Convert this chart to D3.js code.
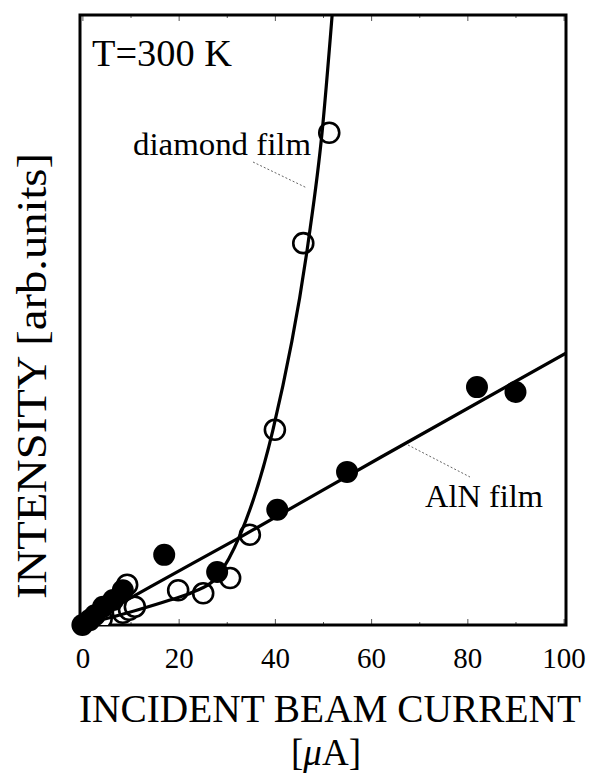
<!DOCTYPE html>
<html>
<head>
<meta charset="utf-8">
<script src="https://cdn.jsdelivr.net/npm/d3@7/dist/d3.min.js"></script>
<style>
  html, body { margin: 0; padding: 0; background: #fff; }
  svg { display: block; }
  text { font-family: "Liberation Serif", "Times New Roman", serif; fill: #000; }
</style>
</head>
<body>
<svg id="chart" width="594" height="773"></svg>
<script>
// Cathodoluminescence intensity vs. incident beam current (T = 300 K)

// x-axis tick labels
const xTickValues = [0, 20, 40, 60, 80, 100];
const xMinorTicks = [10, 30, 50, 70, 90];

// AlN film: measured points (filled circles)
const alnCurrent   = [0, 1.5, 2.6, 4.3, 6.4, 8.4, 17, 28, 40.5, 55, 82, 90];
const alnIntensity = [0, 0.08, 0.16, 0.3, 0.41, 0.57, 1.15, 0.87, 1.89, 2.51, 3.9, 3.82];

// diamond film: measured points (open circles)
const diaCurrent   = [0, 2, 4, 8.4, 9.7, 10.9, 9.3, 19.9, 25.1, 30.7, 34.8, 40.0, 45.9, 51.3];
const diaIntensity = [0, 0.05, 0.1, 0.2, 0.25, 0.3, 0.66, 0.57, 0.52, 0.77, 1.48, 3.2, 6.26, 8.07];

// guide curves through each series
const alnFitX = [0, 14, 33, 62, 101];
const alnFitY = [0, 0.62, 1.45, 2.75, 4.48];
const diaFitX = [0, 11.6, 18.2, 23, 28, 32.8, 39.6, 46.9, 49.8, 51.9, 52.6];
const diaFitY = [0, 0.25, 0.41, 0.54, 0.79, 1.48, 3.2, 6.26, 8.07, 10, 10.7];

const svg = d3.select("#chart");
const frame = { left: 80, top: 15, right: 566, bottom: 625 };

const x = d3.scaleLinear().domain([-0.5, 100.5]).range([frame.left, frame.right]);
const y = d3.scaleLinear().domain([0, 10]).range([frame.bottom, frame.top]);

svg.append("defs").append("clipPath").attr("id", "plot-clip")
  .append("rect")
  .attr("x", frame.left).attr("y", frame.top)
  .attr("width", frame.right - frame.left).attr("height", frame.bottom - frame.top);

// small inward ticks on bottom and top edges
const bottomAxis = d3.axisBottom(x).tickValues(xTickValues).tickSize(-6).tickFormat("");
const bottomMinor = d3.axisBottom(x).tickValues(xMinorTicks).tickSize(-3).tickFormat("");
const topAxis = d3.axisTop(x).tickValues(xTickValues).tickSize(-6).tickFormat("");
const topMinor = d3.axisTop(x).tickValues(xMinorTicks).tickSize(-3).tickFormat("");

[[bottomAxis, frame.bottom], [bottomMinor, frame.bottom], [topAxis, frame.top], [topMinor, frame.top]]
  .forEach(([ax, ty]) => {
    const g = svg.append("g").attr("transform", `translate(0,${ty})`).call(ax);
    g.select(".domain").remove();
    g.selectAll(".tick line").attr("stroke", "#555").attr("stroke-width", 1);
  });

// tick labels
const labelAxis = d3.axisBottom(x).tickValues(xTickValues).tickSize(0).tickPadding(0)
  .tickFormat(d3.format("d"));
const lg = svg.append("g").attr("transform", `translate(0,${frame.bottom})`).call(labelAxis);
lg.select(".domain").remove();
lg.selectAll(".tick text")
  .attr("y", 43).attr("dy", 0)
  .style("font-family", '"Liberation Serif", serif')
  .style("font-size", "29px")
  .attr("fill", "#000");

// frame
svg.append("rect")
  .attr("x", frame.left).attr("y", frame.top)
  .attr("width", frame.right - frame.left).attr("height", frame.bottom - frame.top)
  .attr("fill", "none").attr("stroke", "#000").attr("stroke-width", 3);

const plot = svg.append("g").attr("clip-path", "url(#plot-clip)");

// open circles (diamond film)
const diaPts = diaCurrent.map((c, i) => [c, diaIntensity[i]]);
plot.selectAll("circle.dia").data(diaPts).join("circle")
  .attr("class", "dia")
  .attr("cx", d => x(d[0])).attr("cy", d => y(d[1]))
  .attr("r", 10)
  .attr("fill", "#fff").attr("stroke", "#000").attr("stroke-width", 2.6);

// filled circles (AlN film)
const alnPts = alnCurrent.map((c, i) => [c, alnIntensity[i]]);
svg.selectAll("circle.aln").data(alnPts).join("circle")
  .attr("class", "aln")
  .attr("cx", d => x(d[0])).attr("cy", d => y(d[1]))
  .attr("r", 11)
  .attr("fill", "#000");

// guide curves
const line = d3.line().x(d => x(d[0])).y(d => y(d[1])).curve(d3.curveMonotoneX);
plot.append("path")
  .datum(alnFitX.map((v, i) => [v, alnFitY[i]]))
  .attr("d", line).attr("fill", "none").attr("stroke", "#000").attr("stroke-width", 3.2);
plot.append("path")
  .datum(diaFitX.map((v, i) => [v, diaFitY[i]]))
  .attr("d", line).attr("fill", "none").attr("stroke", "#000").attr("stroke-width", 3.2);

// series labels with dotted leader lines
svg.append("text").attr("x", 133).attr("y", 155)
  .attr("textLength", 178).attr("lengthAdjust", "spacingAndGlyphs")
  .style("font-size", "31px").text("diamond film");
svg.append("line")
  .attr("x1", 253).attr("y1", 162).attr("x2", 307).attr("y2", 188)
  .attr("stroke", "#666").attr("stroke-width", 1).attr("stroke-dasharray", "2,2");

svg.append("text").attr("x", 425).attr("y", 507)
  .attr("textLength", 118).attr("lengthAdjust", "spacingAndGlyphs")
  .style("font-size", "31px").text("AlN film");
svg.append("line")
  .attr("x1", 408).attr("y1", 445).attr("x2", 470).attr("y2", 477)
  .attr("stroke", "#666").attr("stroke-width", 1).attr("stroke-dasharray", "2,2");

// temperature annotation
svg.append("text").attr("x", 92).attr("y", 66)
  .attr("textLength", 140).attr("lengthAdjust", "spacingAndGlyphs")
  .style("font-size", "38px").text("T=300 K");

// axis titles
svg.append("text")
  .attr("x", 330).attr("y", 722)
  .attr("text-anchor", "middle")
  .attr("textLength", 502).attr("lengthAdjust", "spacingAndGlyphs")
  .style("font-size", "39px").text("INCIDENT BEAM CURRENT");

const unit = svg.append("text")
  .attr("x", 326).attr("y", 765)
  .attr("text-anchor", "middle")
  .style("font-size", "37px");
unit.append("tspan").text("[");
unit.append("tspan").style("font-style", "italic").text("μ");
unit.append("tspan").text("A]");

svg.append("text")
  .attr("transform", "translate(46,376) rotate(-90)")
  .attr("text-anchor", "middle")
  .attr("textLength", 446).attr("lengthAdjust", "spacingAndGlyphs")
  .style("font-size", "42px").text("INTENSITY [arb.units]");
</script>
</body>
</html>
